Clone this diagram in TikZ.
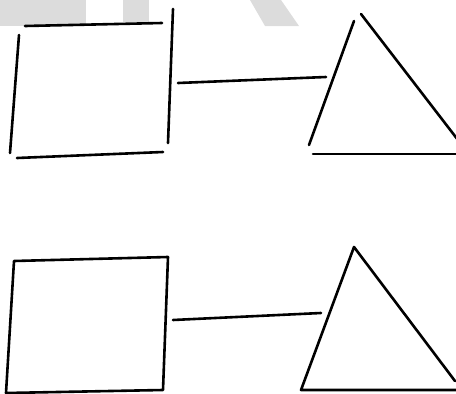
\documentclass[tikz,border=0pt]{standalone}
\begin{document}
\begin{tikzpicture}[x=1pt,y=-1pt,
  stroke/.style={line width=2.6pt,line cap=round,black},
  wm/.style={fill={rgb,255:red,220;green,220;blue,220},draw=none}]
\useasboundingbox (0,0) rectangle (456,394);
\clip (0,0) rectangle (456,394);
% watermark fragments
\fill[wm] (0,0) rectangle (86,26);
\fill[wm] (123,0) rectangle (149,22);
\fill[wm] (250,0) -- (281,0) -- (299,26) -- (265,26) -- cycle;
% top square (open strokes)
\coordinate (s1a) at (25,26); \coordinate (s1b) at (162,23);
\coordinate (s1c) at (19,35); \coordinate (s1d) at (10,153);
\coordinate (s1e) at (173,9); \coordinate (s1f) at (168,143);
\coordinate (s1g) at (17,158); \coordinate (s1h) at (163,152);
\draw[stroke] (s1a) -- (s1b);
\draw[stroke] (s1c) -- (s1d);
\draw[stroke] (s1e) -- (s1f);
\draw[stroke] (s1g) -- (s1h);
% top connector
\coordinate (c1a) at (178,83); \coordinate (c1b) at (326,77);
\draw[stroke] (c1a) -- (c1b);
% top triangle (open strokes)
\coordinate (t1a) at (354,21); \coordinate (t1b) at (309,145);
\coordinate (t1c) at (361,14); \coordinate (t1d) at (458,140);
\coordinate (t1e) at (313,154); \coordinate (t1f) at (460,154);
\draw[stroke] (t1a) -- (t1b);
\draw[stroke] (t1c) -- (t1d);
\draw[stroke] (t1e) -- (t1f);
% bottom square
\coordinate (s2a) at (14,261); \coordinate (s2b) at (168,257);
\coordinate (s2c) at (163,390); \coordinate (s2d) at (6,393);
\draw[stroke,line join=round] (s2a) -- (s2b) -- (s2c) -- (s2d) -- cycle;
% bottom connector
\coordinate (c2a) at (173,320); \coordinate (c2b) at (321,313);
\draw[stroke] (c2a) -- (c2b);
% bottom triangle
\coordinate (t2a) at (354,247); \coordinate (t2b) at (301,390);
\coordinate (t2c) at (460,390); \coordinate (t2d) at (455,381);
\draw[stroke,line join=round] (t2d) -- (t2a) -- (t2b) -- (t2c);
\end{tikzpicture}
\end{document}
